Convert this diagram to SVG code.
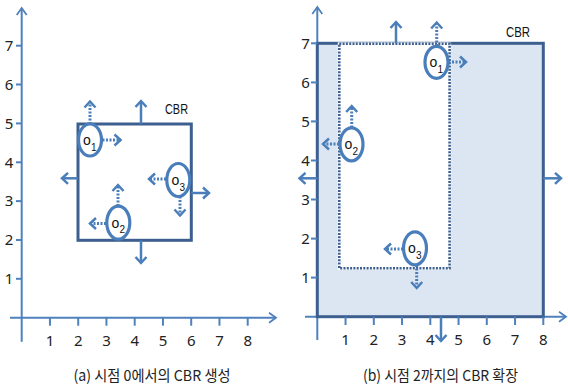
<svg xmlns="http://www.w3.org/2000/svg" width="568" height="387" viewBox="0 0 568 387">
<style>
.axis{stroke:#4F81BD;stroke-width:2;fill:none}
.tick{stroke:#4F81BD;stroke-width:2}
.num{font-family:"Noto Sans","Liberation Sans",sans-serif;font-size:15px;fill:#222;text-anchor:middle}
.cbr{stroke:#3C5F90;stroke-width:3;fill:none}
.obj{stroke:#4A7EBB;stroke-width:3.2;fill:#fff}
.sol{stroke:#4A7EBB;stroke-width:2.5;fill:none}
.dot{stroke:#4A7EBB;stroke-width:3;fill:none;stroke-dasharray:2 1.5}
.lbl{font-family:"Liberation Sans","Noto Sans",sans-serif;font-size:15px;fill:#111}
.o{font-family:"Liberation Sans",sans-serif;font-size:14px;fill:#111}
.s{font-family:"Liberation Sans",sans-serif;font-size:10px;fill:#111}
.cap{font-family:"Noto Sans CJK KR","Liberation Sans",sans-serif;font-size:15px;fill:#222}
</style>
<defs>
<marker id="ah" markerUnits="userSpaceOnUse" markerWidth="1" markerHeight="1" refX="0" refY="0" orient="auto" overflow="visible">
<path d="M-6,-5.5 L0,0 L-6,5.5" fill="none" stroke="#4A7EBB" stroke-width="2.5"/>
</marker>
<marker id="ax" markerUnits="userSpaceOnUse" markerWidth="1" markerHeight="1" refX="0" refY="0" orient="auto" overflow="visible">
<path d="M-7,-5 L0,0 L-7,5" fill="none" stroke="#4F81BD" stroke-width="1.8"/>
</marker>
</defs>

<!-- Left panel axes -->
<g id="axesA">
<line class="axis" x1="21.7" y1="341.7" x2="21.7" y2="8" marker-end="url(#ax)"/>
<line class="axis" x1="10" y1="317.7" x2="276" y2="317.7" marker-end="url(#ax)"/>
<g class="tick">
<line x1="16" y1="278.8" x2="21.7" y2="278.8"/>
<line x1="16" y1="240" x2="21.7" y2="240"/>
<line x1="16" y1="201.1" x2="21.7" y2="201.1"/>
<line x1="16" y1="162.3" x2="21.7" y2="162.3"/>
<line x1="16" y1="123.4" x2="21.7" y2="123.4"/>
<line x1="16" y1="84.5" x2="21.7" y2="84.5"/>
<line x1="16" y1="45.7" x2="21.7" y2="45.7"/>
<line x1="49.95" y1="317.7" x2="49.95" y2="325.7"/>
<line x1="78.2" y1="317.7" x2="78.2" y2="325.7"/>
<line x1="106.45" y1="317.7" x2="106.45" y2="325.7"/>
<line x1="134.7" y1="317.7" x2="134.7" y2="325.7"/>
<line x1="162.95" y1="317.7" x2="162.95" y2="325.7"/>
<line x1="191.2" y1="317.7" x2="191.2" y2="325.7"/>
<line x1="219.45" y1="317.7" x2="219.45" y2="325.7"/>
<line x1="247.7" y1="317.7" x2="247.7" y2="325.7"/>
</g>
<g class="num">
<text x="9" y="284">1</text><text x="9" y="245.2">2</text><text x="9" y="206.3">3</text><text x="9" y="167.5">4</text><text x="9" y="128.6">5</text><text x="9" y="89.7">6</text><text x="9" y="50.9">7</text>
<text x="49.95" y="345.5">1</text><text x="78.2" y="345.5">2</text><text x="106.45" y="345.5">3</text><text x="134.7" y="345.5">4</text><text x="162.95" y="345.5">5</text><text x="191.2" y="345.5">6</text><text x="219.45" y="345.5">7</text><text x="247.7" y="345.5">8</text>
</g>
</g>

<g id="cbrA">
<rect class="cbr" x="78" y="124" width="113.3" height="116.3"/>
<text class="lbl" x="165" y="113.5" textLength="23" lengthAdjust="spacingAndGlyphs">CBR</text>
</g>

<g id="connectorsA">
<line class="sol" x1="141" y1="124" x2="141" y2="101" marker-end="url(#ah)"/>
<line class="sol" x1="78" y1="178.3" x2="62" y2="178.3" marker-end="url(#ah)"/>
<line class="sol" x1="191.3" y1="193" x2="209" y2="193" marker-end="url(#ah)"/>
<line class="sol" x1="141" y1="240.3" x2="141" y2="263" marker-end="url(#ah)"/>
<line class="dot" x1="90" y1="124" x2="90" y2="101.5" marker-end="url(#ah)"/>
<line class="dot" x1="102.5" y1="140" x2="120.5" y2="140" marker-end="url(#ah)"/>
<line class="dot" x1="166" y1="179" x2="149" y2="179" marker-end="url(#ah)"/>
<line class="dot" x1="180" y1="196.5" x2="180" y2="215.5" marker-end="url(#ah)"/>
<line class="dot" x1="118" y1="206" x2="118" y2="185" marker-end="url(#ah)"/>
<line class="dot" x1="106" y1="223.5" x2="90" y2="223.5" marker-end="url(#ah)"/>
</g>

<g id="o1A"><ellipse class="obj" cx="90" cy="140" rx="11.5" ry="16"/><text class="o" x="83" y="145">o</text><text class="s" x="91" y="150.5">1</text></g>
<g id="o3A"><ellipse class="obj" cx="178.3" cy="180" rx="11.5" ry="16.5"/><text class="o" x="171.5" y="185">o</text><text class="s" x="179.5" y="190.5">3</text></g>
<g id="o2A"><ellipse class="obj" cx="118.3" cy="222.7" rx="11.5" ry="16.5"/><text class="o" x="111.5" y="227.7">o</text><text class="s" x="119.5" y="233.2">2</text></g>

<text class="cap" x="73.5" y="380.5" textLength="157" lengthAdjust="spacingAndGlyphs">(a)  시점 0에서의 CBR 생성</text>

<!-- Right panel -->
<g id="axesB">
<line class="axis" x1="317.3" y1="340" x2="317.3" y2="7" marker-end="url(#ax)"/>
<line class="axis" x1="305" y1="316.7" x2="566" y2="316.7" marker-end="url(#ax)"/>
</g>

<g id="cbrB">
<rect x="317.3" y="43.3" width="226" height="273.4" fill="#DCE6F2" stroke="#3C5F90" stroke-width="3"/>
<rect x="339.3" y="43.8" width="110.3" height="224.5" fill="#fff" stroke="#fff" stroke-width="3"/>
<rect x="339.3" y="43.8" width="110.3" height="224.5" fill="none" stroke="#3C5F90" stroke-width="2.6" stroke-dasharray="2 1.3"/>
<text class="lbl" x="506" y="37" textLength="24" lengthAdjust="spacingAndGlyphs">CBR</text>
</g>

<g id="ticksB">
<g class="tick">
<line x1="311" y1="277.6" x2="317.3" y2="277.6"/>
<line x1="311" y1="238.6" x2="317.3" y2="238.6"/>
<line x1="311" y1="199.5" x2="317.3" y2="199.5"/>
<line x1="311" y1="160.5" x2="317.3" y2="160.5"/>
<line x1="311" y1="121.4" x2="317.3" y2="121.4"/>
<line x1="311" y1="82.4" x2="317.3" y2="82.4"/>
<line x1="311" y1="43.3" x2="317.3" y2="43.3"/>
<line x1="345.55" y1="316.7" x2="345.55" y2="325"/>
<line x1="373.8" y1="316.7" x2="373.8" y2="325"/>
<line x1="402.05" y1="316.7" x2="402.05" y2="325"/>
<line x1="430.3" y1="316.7" x2="430.3" y2="325"/>
<line x1="458.55" y1="316.7" x2="458.55" y2="325"/>
<line x1="486.8" y1="316.7" x2="486.8" y2="325"/>
<line x1="515.05" y1="316.7" x2="515.05" y2="325"/>
<line x1="543.3" y1="316.7" x2="543.3" y2="325"/>
</g>
<g class="num">
<text x="305.5" y="282.8">1</text><text x="305.5" y="243.8">2</text><text x="305.5" y="204.7">3</text><text x="305.5" y="165.7">4</text><text x="305.5" y="126.6">5</text><text x="305.5" y="87.6">6</text><text x="305.5" y="48.5">7</text>
<text x="345.55" y="344.5">1</text><text x="373.8" y="344.5">2</text><text x="402.05" y="344.5">3</text><text x="430.3" y="344.5">4</text><text x="458.55" y="344.5">5</text><text x="486.8" y="344.5">6</text><text x="515.05" y="344.5">7</text><text x="543.3" y="344.5">8</text>
</g>
</g>

<g id="connectorsB">
<line class="sol" x1="396" y1="43.3" x2="396" y2="22" marker-end="url(#ah)"/>
<line class="sol" x1="317.3" y1="178.3" x2="299.5" y2="178.3" marker-end="url(#ah)"/>
<line class="sol" x1="543.3" y1="178.3" x2="561" y2="178.3" marker-end="url(#ah)"/>
<line class="sol" x1="441" y1="316.7" x2="441" y2="341" marker-end="url(#ah)"/>
<line class="dot" x1="436.7" y1="46" x2="436.7" y2="22.5" marker-end="url(#ah)"/>
<line class="dot" x1="448.5" y1="62" x2="466" y2="62" marker-end="url(#ah)"/>
<line class="dot" x1="351.7" y1="127.5" x2="351.7" y2="106" marker-end="url(#ah)"/>
<line class="dot" x1="339" y1="144" x2="323" y2="144" marker-end="url(#ah)"/>
<line class="dot" x1="403" y1="249" x2="385" y2="249" marker-end="url(#ah)"/>
<line class="dot" x1="416.7" y1="265" x2="416.7" y2="288" marker-end="url(#ah)"/>
</g>

<g id="o1B"><ellipse class="obj" cx="436.5" cy="62.3" rx="11.5" ry="16"/><text class="o" x="429.5" y="67.3">o</text><text class="s" x="437.5" y="72.8">1</text></g>
<g id="o2B"><ellipse class="obj" cx="351.5" cy="144.3" rx="11.5" ry="16.5"/><text class="o" x="344.5" y="149.3">o</text><text class="s" x="352.5" y="154.8">2</text></g>
<g id="o3B"><ellipse class="obj" cx="415" cy="248.3" rx="11.5" ry="16.5"/><text class="o" x="408" y="253.3">o</text><text class="s" x="416" y="258.8">3</text></g>

<text class="cap" x="363" y="380.5" textLength="155" lengthAdjust="spacingAndGlyphs">(b)  시점 2까지의 CBR 확장</text>
</svg>
